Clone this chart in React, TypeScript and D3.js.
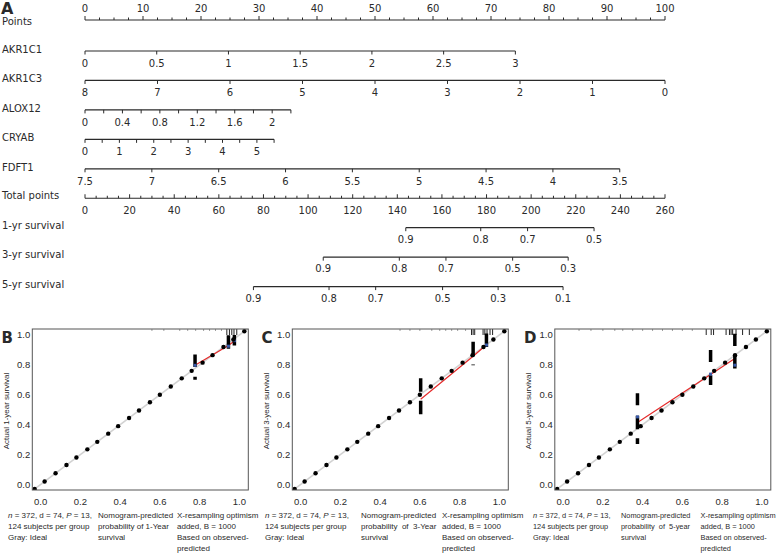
import React from "react";
import * as d3 from "d3";

// ---------- Nomogram data ----------
const pointsLabels = [0, 10, 20, 30, 40, 50, 60, 70, 80, 90, 100];
const totalLabels = [0, 20, 40, 60, 80, 100, 120, 140, 160, 180, 200, 220, 240, 260];

const varNames = ["AKR1C1", "AKR1C3", "ALOX12", "CRYAB", "FDFT1"];
const varDomains = [[0, 3], [8, 0], [0, 2.2], [0, 5.5], [7.5, 3.5]];
const varPointRanges = [[0, 74.2], [0, 100], [0, 35.5], [0, 32.6], [0, 92.2]];
const varTicks = [
  [0, 0.5, 1, 1.5, 2, 2.5, 3],
  [8, 7, 6, 5, 4, 3, 2, 1, 0],
  [0, 0.2, 0.4, 0.6, 0.8, 1.0, 1.2, 1.4, 1.6, 1.8, 2.0, 2.2],
  [0, 0.5, 1, 1.5, 2, 2.5, 3, 3.5, 4, 4.5, 5, 5.5],
  [7.5, 7, 6.5, 6, 5.5, 5, 4.5, 4, 3.5],
];
const varLabels = [
  ["0", "0.5", "1", "1.5", "2", "2.5", "3"],
  ["8", "7", "6", "5", "4", "3", "2", "1", "0"],
  ["0", "0.4", "0.8", "1.2", "1.6", "2"],
  ["0", "1", "2", "3", "4", "5"],
  ["7.5", "7", "6.5", "6", "5.5", "5", "4.5", "4", "3.5"],
];

const survNames = ["1-yr survival", "3-yr survival", "5-yr survival"];
const survTicks = [
  [0.9, 0.8, 0.7, 0.5],
  [0.9, 0.8, 0.7, 0.5, 0.3],
  [0.9, 0.8, 0.7, 0.5, 0.3, 0.1],
];
const survTotalPoints = [
  [143.8, 177.4, 198.4, 228.2],
  [106.8, 140.9, 161.8, 191.7, 216.6],
  [75.5, 109.4, 130.3, 160.3, 185.2, 214.3],
];

// ---------- Calibration data ----------
const axisTicks = [0, 0.2, 0.4, 0.6, 0.8, 1.0];
const idealDots = [-0.03, 0.02, 0.075, 0.13, 0.18, 0.235, 0.285, 0.34, 0.39, 0.445, 0.495, 0.55, 0.6, 0.655, 0.71, 0.76, 0.815, 0.865, 0.92, 0.97, 1.025];

const calPredB = [0.777, 0.945, 0.975];
const calObsB = [0.797, 0.93, 0.96];
const calBlueB = [0.797, 0.925, 0.962];
const calBarsB = [[[0.785, 0.87], [0.70, 0.72]], [[0.908, 0.998]], [[0.93, 1.0]]];
const rugStrongB = [0.937, 0.95, 0.962, 0.973, 0.987];
const rugFaintB = [0.56, 0.62, 0.7, 0.74, 0.78, 0.82, 0.85, 0.88, 0.91];

const calPredC = [0.604, 0.868, 0.935];
const calObsC = [0.57, 0.858, 0.935];
const calBlueC = [null, null, 0.933];
const calBarsC = [[[0.62, 0.71], [0.47, 0.56]], [[0.858, 0.955], [0.797, 0.803]], [[0.92, 1.01]]];
const rugStrongC = [0.86, 0.868, 0.876, 0.918, 0.927, 0.938, 0.953, 0.966];
const rugFaintC = [0.5, 0.55, 0.6, 0.66, 0.7, 0.73, 0.76, 0.79, 0.83];

const calPredD = [0.374, 0.742, 0.864];
const calObsD = [0.415, 0.735, 0.842];
const calBlueD = [0.452, 0.738, 0.798];
const calBarsD = [[[0.53, 0.61], [0.37, 0.46], [0.27, 0.31]], [[0.82, 0.9], [0.665, 0.73]], [[0.927, 1.009], [0.775, 0.869]]];
const rugStrongD = [0.72, 0.745, 0.757, 0.82, 0.837, 0.845, 0.853, 0.87, 0.903, 0.937];
const rugFaintD = [0.08, 0.14, 0.2, 0.26, 0.3, 0.35, 0.4, 0.45, 0.5, 0.55, 0.6, 0.65];

const NOMO_FONT = "'DejaVu Sans', Verdana, sans-serif";
const PANEL_FONT = "'Liberation Sans', Arial, sans-serif";
const INK = "#2a2a2a";

function Nomogram() {
  const x0 = 85, x1 = 665;
  const ptsX = d3.scaleLinear().domain([0, 100]).range([x0, x1]);
  const totX = d3.scaleLinear().domain([0, 260]).range([x0, x1]);
  const rowY = (k: number) => 51 + 29.45 * k;
  const pointsY = 20;
  const sw = 1.2;
  const fs = 10;

  const ptsMinor = d3.range(0, 100.01, 2.5);
  const totMinor = d3.range(0, 260.01, 5);

  return (
    <g fontFamily={NOMO_FONT} fill={INK}>
      <text x={1} y={14} fontSize={16} fontWeight="bold" fontFamily="'DejaVu Sans', sans-serif">A</text>
      <text x={2} y={pointsY + 5} fontSize={fs}>Points</text>
      <line x1={x0} x2={x1} y1={pointsY} y2={pointsY} stroke={INK} strokeWidth={sw} />
      {ptsMinor.map((v) => {
        const major = pointsLabels.includes(v);
        return <line key={v} x1={ptsX(v)} x2={ptsX(v)} y1={pointsY} y2={pointsY - (major ? 4 : 2.5)} stroke={INK} strokeWidth={1} />;
      })}
      {pointsLabels.map((v) => (
        <text key={v} x={ptsX(v)} y={pointsY - 8} fontSize={fs} textAnchor="middle">{v}</text>
      ))}

      {varNames.map((name, i) => {
        const y = rowY(i);
        const toPts = d3.scaleLinear().domain(varDomains[i]).range(varPointRanges[i]);
        const xs = (v: number) => ptsX(toPts(v));
        const ends = varDomains[i].map(xs);
        return (
          <g key={name}>
            <text x={2} y={y + 2} fontSize={fs}>{name}</text>
            <line x1={Math.min(...ends)} x2={Math.max(...ends)} y1={y} y2={y} stroke={INK} strokeWidth={sw} />
            {varTicks[i].map((t) => (
              <line key={t} x1={xs(t)} x2={xs(t)} y1={y} y2={y + 3.5} stroke={INK} strokeWidth={1} />
            ))}
            {varLabels[i].map((l) => (
              <text key={l} x={xs(+l)} y={y + 16} fontSize={fs} textAnchor="middle">{l}</text>
            ))}
          </g>
        );
      })}

      {(() => {
        const y = rowY(5);
        return (
          <g>
            <text x={2} y={y + 1} fontSize={fs}>Total points</text>
            <line x1={x0} x2={x1} y1={y} y2={y} stroke={INK} strokeWidth={sw} />
            {totMinor.map((v) => {
              const major = totalLabels.includes(v);
              return <line key={v} x1={totX(v)} x2={totX(v)} y1={y} y2={y - (major ? 4 : 2.5)} stroke={INK} strokeWidth={1} />;
            })}
            {totalLabels.map((v) => (
              <text key={v} x={totX(v)} y={y + 16} fontSize={fs} textAnchor="middle">{v}</text>
            ))}
          </g>
        );
      })()}

      {survNames.map((name, i) => {
        const y = rowY(6 + i);
        const xs = survTotalPoints[i].map((p) => totX(p));
        return (
          <g key={name}>
            <text x={2} y={y + 1} fontSize={fs}>{name}</text>
            <line x1={d3.min(xs)} x2={d3.max(xs)} y1={y} y2={y} stroke={INK} strokeWidth={sw} />
            {survTicks[i].map((t, j) => (
              <g key={t}>
                <line x1={xs[j]} x2={xs[j]} y1={y} y2={y + 3.5} stroke={INK} strokeWidth={1} />
                <text x={xs[j]} y={y + 15} fontSize={fs} textAnchor="middle">{t.toFixed(1)}</text>
              </g>
            ))}
          </g>
        );
      })}
    </g>
  );
}

type PanelProps = {
  ox: number;
  letter: string;
  yTitle: string;
  cap2: string;
  capCols: number[];
  capSize: number;
  pred: number[];
  obs: number[];
  blue: (number | null)[];
  bars: number[][][];
  rugStrong: number[];
  rugFaint: number[];
};

function Panel(p: PanelProps) {
  const left = p.ox + 32.3, right = p.ox + 248.3, top = 329, bottom = 490;
  const x = d3.scaleLinear().domain([-0.042, 1.045]).range([left, right]);
  const y = d3.scaleLinear().domain([-0.037, 1.04]).range([bottom, top]);
  const redLine = d3.line<number>().x((_, i) => x(p.pred[i])).y((d) => y(d));
  const capY = [518, 529, 540, 551];
  const col1 = [
    <tspan key="a"><tspan fontStyle="italic">n</tspan> = 372, d = 74, <tspan fontStyle="italic">P</tspan> = 13,</tspan>,
    "124 subjects per group",
    "Gray: Ideal",
  ];
  const col2 = ["Nomogram-predicted", p.cap2, "survival"];
  const col3 = ["X-resampling optimism", "added, B = 1000", "Based on observed-", "predicted"];
  return (
    <g fontFamily={PANEL_FONT} fill={INK}>
      <text x={p.ox + 1.5} y={343} fontSize={15} fontWeight="bold" fontFamily="'DejaVu Sans', sans-serif">{p.letter}</text>
      <defs>
        <clipPath id={"clip" + p.letter}>
          <rect x={left} y={top} width={right - left} height={bottom - top} />
        </clipPath>
      </defs>
      <g clipPath={`url(#clip${p.letter})`}>
        <line x1={x(-0.042)} y1={y(-0.042)} x2={x(1.045)} y2={y(1.045)} stroke="#d2d2d2" strokeWidth={1.6} />
        {p.rugFaint.map((v, i) => (
          <line key={"f" + i} x1={x(v)} x2={x(v)} y1={top} y2={top + 2} stroke="#888" strokeWidth={0.8} />
        ))}
        {p.rugStrong.map((v, i) => (
          <line key={"s" + i} x1={x(v)} x2={x(v)} y1={top} y2={top + 6} stroke="#222" strokeWidth={1} />
        ))}
        <path d={redLine(p.obs) || ""} fill="none" stroke="#e52b2b" strokeWidth={1.2} />
        {p.bars.map((segs, i) =>
          segs.map((s, j) => (
            <line key={i + "-" + j} x1={x(p.pred[i])} x2={x(p.pred[i])} y1={y(s[0])} y2={y(s[1])} stroke="#000" strokeWidth={3.5} />
          ))
        )}
        {p.blue.map((b, i) =>
          b == null ? null : <rect key={"b" + i} x={x(p.pred[i]) - 1.5} y={y(b) - 1.5} width={3} height={3} fill="#3a5aa8" />
        )}
        {idealDots.map((d, i) => (
          <circle key={"d" + i} cx={x(d)} cy={y(d)} r={2.2} fill="#000" />
        ))}
      </g>
      <rect x={left} y={top} width={right - left} height={bottom - top} fill="none" stroke="#555" strokeWidth={1} />
      {axisTicks.map((t) => (
        <text key={"x" + t} x={x(t)} y={504.5} fontSize={9.5} textAnchor="middle">{t.toFixed(1)}</text>
      ))}
      {axisTicks.map((t) => (
        <text key={"y" + t} x={left - 2} y={y(t) + 3.3} fontSize={9.5} textAnchor="end">{t.toFixed(1)}</text>
      ))}
      <text transform={`translate(${p.ox + 8.5},${411}) rotate(-90)`} fontSize={8} textAnchor="middle">{p.yTitle}</text>
      {col1.map((t, i) => (
        <text key={"c1" + i} x={p.ox + p.capCols[0]} y={capY[i]} fontSize={p.capSize}>{t}</text>
      ))}
      {col2.map((t, i) => (
        <text key={"c2" + i} x={p.ox + p.capCols[1]} y={capY[i]} fontSize={p.capSize} style={{ whiteSpace: "pre" }}>{t}</text>
      ))}
      {col3.map((t, i) => (
        <text key={"c3" + i} x={p.ox + p.capCols[2]} y={capY[i]} fontSize={p.capSize}>{t}</text>
      ))}
    </g>
  );
}

export default function App() {
  return (
    <svg width={778} height={556} style={{ position: "absolute", left: 0, top: 0, background: "#fff" }}>
      <rect x={0} y={0} width={778} height={556} fill="#fff" />
      <Nomogram />
      <Panel ox={0} letter="B" yTitle="Actual 1-year survival" cap2="probability of 1-Year" capCols={[8, 98, 177]} capSize={8}
        pred={calPredB} obs={calObsB} blue={calBlueB} bars={calBarsB} rugStrong={rugStrongB} rugFaint={rugFaintB} />
      <Panel ox={260} letter="C" yTitle="Actual 3-year survival" cap2="probability  of  3-Year" capCols={[5, 101, 182]} capSize={8}
        pred={calPredC} obs={calObsC} blue={calBlueC} bars={calBarsC} rugStrong={rugStrongC} rugFaint={rugFaintC} />
      <Panel ox={522.5} letter="D" yTitle="Actual 5-year survival" cap2="probability  of  5-year" capCols={[10.5, 98.5, 178]} capSize={7.4}
        pred={calPredD} obs={calObsD} blue={calBlueD} bars={calBarsD} rugStrong={rugStrongD} rugFaint={rugFaintD} />
    </svg>
  );
}
